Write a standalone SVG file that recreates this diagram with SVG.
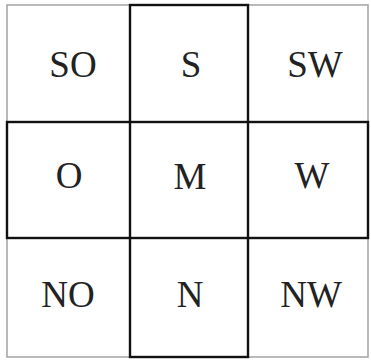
<svg xmlns="http://www.w3.org/2000/svg" width="371" height="360" viewBox="0 0 371 360">
<style>
.outer{fill:none;stroke:#a8a8a8;stroke-width:1.6}
.thick{fill:none;stroke:#111;stroke-width:2.4}
.lbl{font-family:"Liberation Serif","Times New Roman",serif;font-size:37px;fill:#222;text-anchor:middle}
</style>
<rect x="0" y="0" width="371" height="360" fill="#fff"/>
<rect class="outer" x="7" y="5" width="361" height="352"/>
<g id="middle-row"><rect class="thick" x="7" y="122" width="361" height="116"/></g>
<g id="center-column"><rect class="thick" x="130" y="5" width="118" height="352"/></g>
<g id="SO"><text class="lbl" x="73" y="77">SO</text></g>
<g id="S"><text class="lbl" x="191" y="77">S</text></g>
<g id="SW"><text class="lbl" x="315" y="77">SW</text></g>
<g id="O"><text class="lbl" x="69" y="188">O</text></g>
<g id="M"><text class="lbl" x="190" y="189">M</text></g>
<g id="W"><text class="lbl" x="312" y="188">W</text></g>
<g id="NO"><text class="lbl" x="68" y="307">NO</text></g>
<g id="N"><text class="lbl" x="190" y="307">N</text></g>
<g id="NW"><text class="lbl" x="311" y="307">NW</text></g>
<g id="connectors"></g>
</svg>
